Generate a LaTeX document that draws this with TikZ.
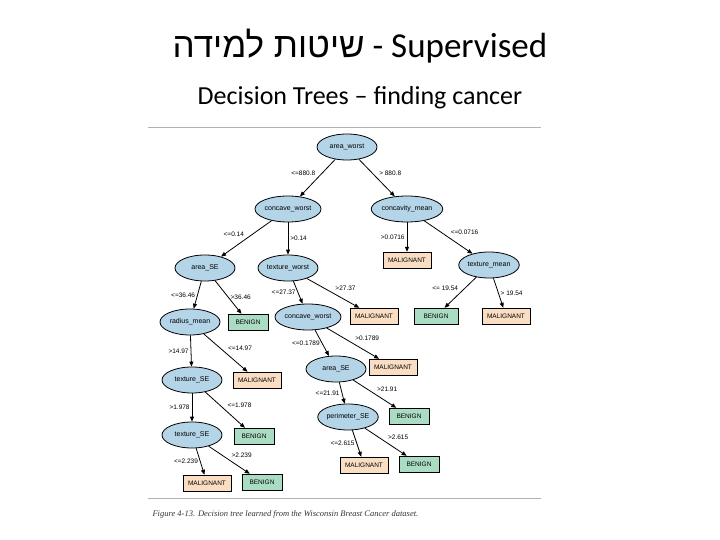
\documentclass[tikz,border=0pt]{standalone}
\usepackage{fontspec}
\setmainfont{Carlito}
\newfontfamily\hebfont[Script=Hebrew]{Liberation Sans}
\newfontfamily\nodefont{Liberation Sans}
\newfontfamily\capfont{Liberation Serif}
\TeXXeTstate=1
\usetikzlibrary{shapes.geometric,arrows.meta}
\definecolor{ellblue}{RGB}{180,212,232}
\definecolor{malig}{RGB}{250,222,195}
\definecolor{benign}{RGB}{170,220,195}
\begin{document}
\begin{tikzpicture}[x=1pt,y=-1pt,
  ell/.style={ellipse,draw,thick,fill=ellblue,minimum width=60pt,minimum height=26pt,inner sep=0pt,font=\nodefont\fontsize{7}{8}\selectfont},
  mal/.style={rectangle,draw,fill=malig,minimum width=48pt,minimum height=16pt,inner sep=1pt,font=\nodefont\fontsize{6.5}{8}\selectfont},
  ben/.style={rectangle,draw,fill=benign,minimum width=40pt,minimum height=16pt,inner sep=1pt,font=\nodefont\fontsize{6.5}{8}\selectfont},
  ar/.style={draw,thick,-{Triangle[length=5pt,width=4pt]}},
  lab/.style={font=\nodefont\fontsize{6.5}{8}\selectfont,inner sep=2pt}]
\useasboundingbox (0,0) rectangle (720,540);
\node (t1) at (360,46) {\fontsize{35}{40}\selectfont{\hebfont\beginR שיטות למידה\endR} - Supervised};
\node (t2) at (360,98) {\fontsize{26}{30}\selectfont Decision Trees – finding cancer};
\draw[gray!60,thick] (148,127) -- (541,127);
\draw[gray!60,thick] (148,498) -- (541,498);
\node[anchor=west,text=black!80,font=\capfont\itshape\fontsize{8.5}{10}\selectfont] (cap) at (149,514) {Figure 4-13. Decision tree learned from the Wisconsin Breast Cancer dataset.};
\node[ell] (aw) at (347,147) {area\_worst};
\node[ell] (cw) at (288,209) {concave\_worst};
\node[ell] (cm) at (407,209) {concavity\_mean};
\node[ell] (ase) at (205,268) {area\_SE};
\node[ell] (tw) at (288,268) {texture\_worst};
\node[mal] (m1) at (407,260) {MALIGNANT};
\node[ell] (tm) at (489,265) {texture\_mean};
\node[ell] (rm) at (190,322) {radius\_mean};
\node[ben] (b1) at (248,322) {BENIGN};
\node[ell,minimum width=64pt] (cw2) at (308,317) {concave\_worst};
\node[mal] (m2) at (374,316) {MALIGNANT};
\node[ben,minimum width=44pt] (b2) at (436,316) {BENIGN};
\node[mal] (m3) at (506,316) {MALIGNANT};
\node[ell] (tse) at (192,380) {texture\_SE};
\node[mal] (m4) at (257,380) {MALIGNANT};
\node[ell] (ase2) at (336,369) {area\_SE};
\node[mal] (m5) at (393,367) {MALIGNANT};
\node[ell] (pse) at (348,417) {perimeter\_SE};
\node[ben] (b3) at (409,416) {BENIGN};
\node[ell] (tse2) at (192,435) {texture\_SE};
\node[ben] (b4) at (254,436) {BENIGN};
\node[mal] (m6) at (207,483) {MALIGNANT};
\node[ben] (b5) at (262,482) {BENIGN};
\node[mal] (m7) at (364,465) {MALIGNANT};
\node[ben] (b6) at (419,464) {BENIGN};
\path[ar] (aw) -- node[lab,above left] {<=880.8} (cw);
\path[ar] (aw) -- node[lab,above right] {> 880.8} (cm);
\path[ar] (cw) -- node[lab,above left] {<=0.14} (ase);
\path[ar] (cw) -- node[lab,right] {>0.14} (tw);
\path[ar] (cm) -- node[lab,left] {>0.0716} (m1);
\path[ar] (cm) -- node[lab,above right] {<=0.0716} (tm);
\path[ar] (ase) -- node[lab,left] {<=36.46} (rm);
\path[ar] (ase) -- node[lab,right] {>36.46} (b1);
\path[ar] (tw) -- node[lab,left] {<=27.37} (cw2);
\path[ar] (tw) -- node[lab,above right] {>27.37} (m2);
\path[ar] (tm) -- node[lab,above left] {<= 19.54} (b2);
\path[ar] (tm) -- node[lab,right] {> 19.54} (m3);
\path[ar] (rm) -- node[lab,left] {>14.97} (tse);
\path[ar] (rm) -- node[lab,above right] {<=14.97} (m4);
\path[ar] (cw2) -- node[lab,left] {<=0.1789} (ase2);
\path[ar] (cw2) -- node[lab,above right] {>0.1789} (m5);
\path[ar] (tse) -- node[lab,left] {>1.978} (tse2);
\path[ar] (tse) -- node[lab,above right] {<=1.978} (b4);
\path[ar] (ase2) -- node[lab,left] {<=21.91} (pse);
\path[ar] (ase2) -- node[lab,above right] {>21.91} (b3);
\path[ar] (tse2) -- node[lab,left] {<=2.239} (m6);
\path[ar] (tse2) -- node[lab,above right] {>2.239} (b5);
\path[ar] (pse) -- node[lab,left] {<=2.615} (m7);
\path[ar] (pse) -- node[lab,above right] {>2.615} (b6);
\end{tikzpicture}
\end{document}
